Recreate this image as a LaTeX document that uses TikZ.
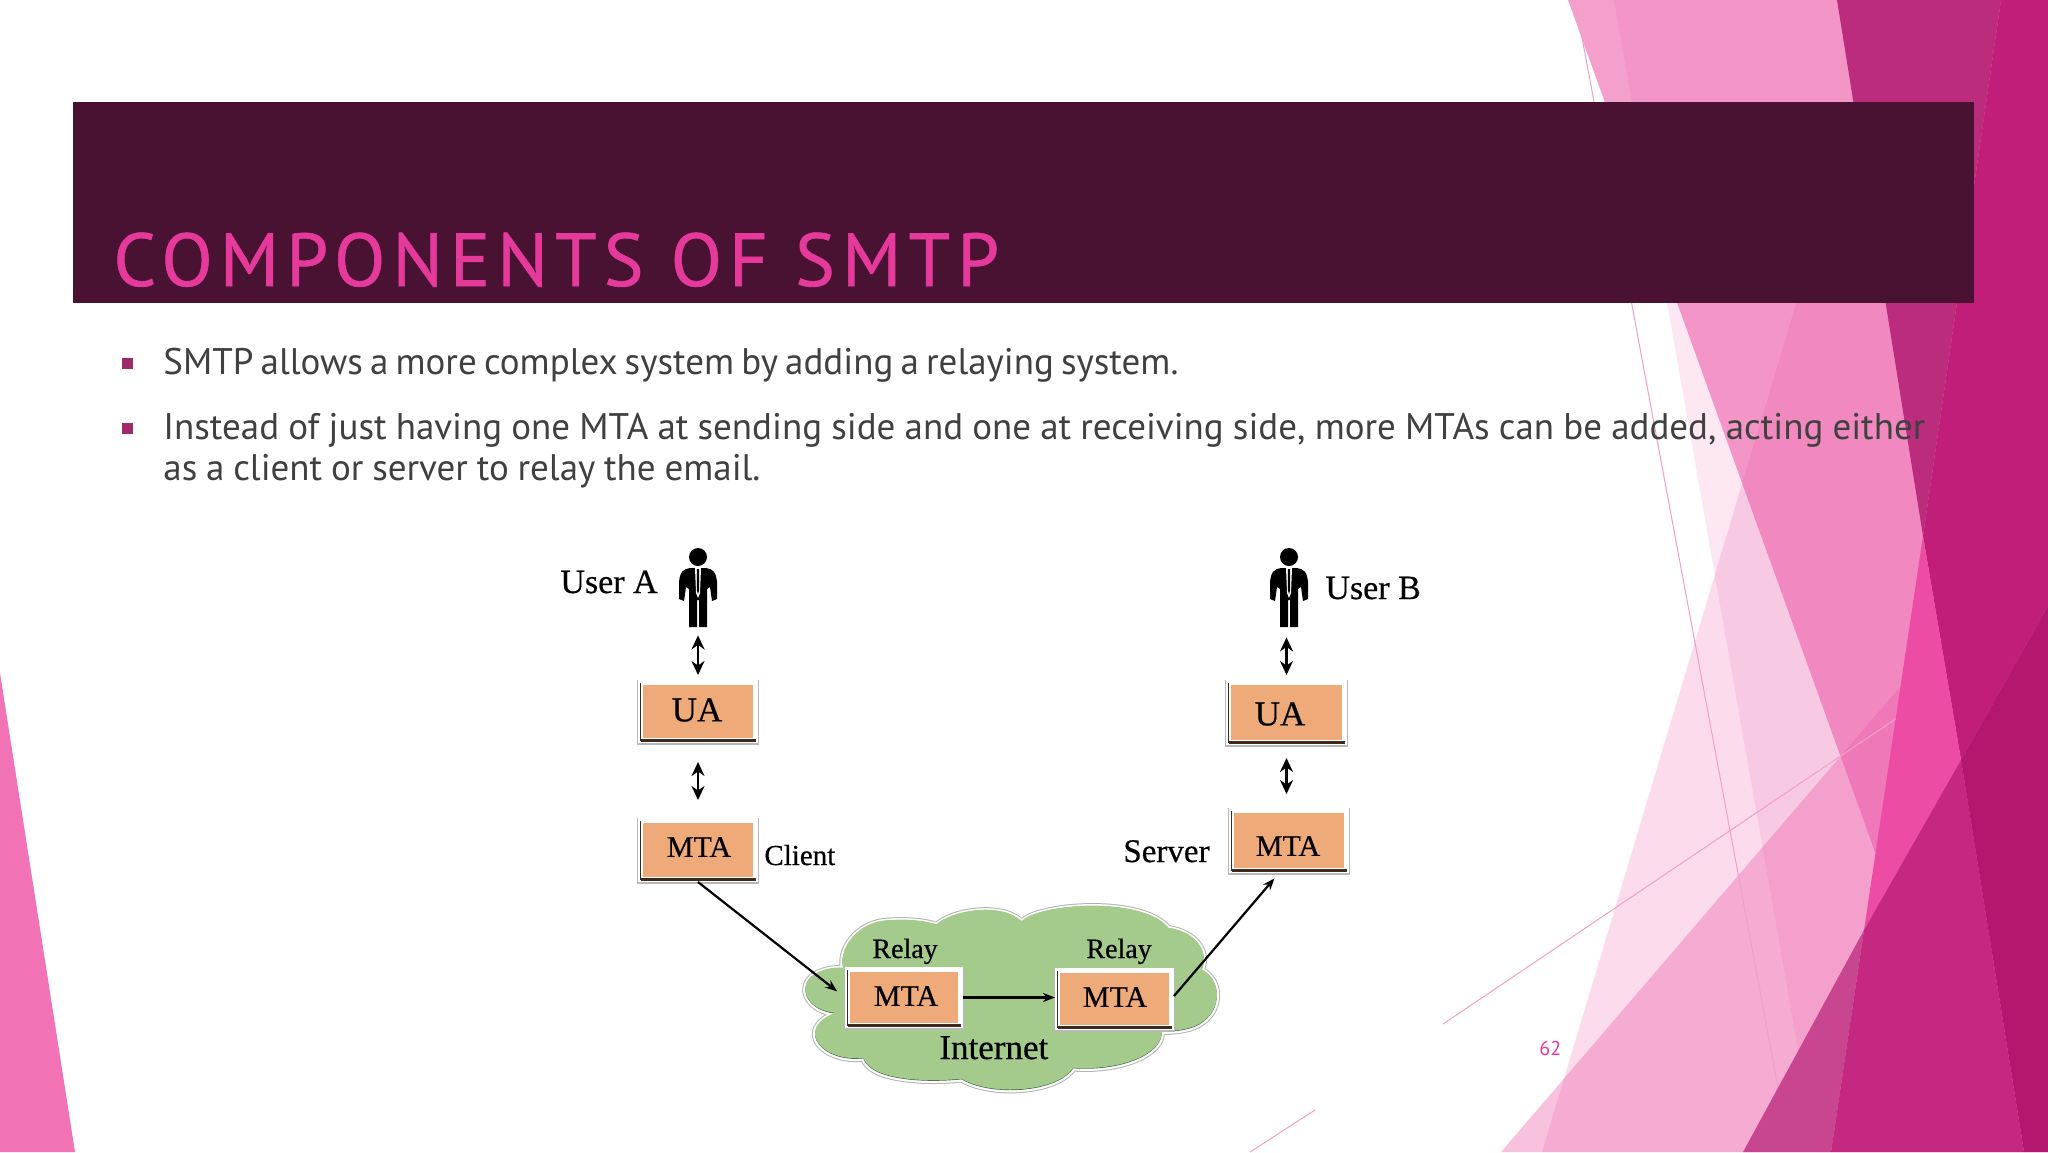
\documentclass[tikz,border=0pt]{standalone}
\usepackage{fontspec}
\setmainfont{PT Sans}
\newfontfamily\diagfont[FakeBold=0.5]{Liberation Serif}
\newfontfamily\titlefont[LetterSpace=9.5,FakeBold=0.8]{PT Sans}
\usetikzlibrary{arrows.meta,calc}
\definecolor{headerdark}{HTML}{4A1232}
\definecolor{titlepink}{HTML}{E5399B}
\definecolor{bodygrey}{HTML}{404040}
\definecolor{bulletpink}{HTML}{A02968}
\definecolor{shapepink}{HTML}{EE5FAB}
\definecolor{linepink}{HTML}{EFA0C8}
\definecolor{leftpink}{HTML}{F272B6}
\definecolor{boxorange}{HTML}{EFAA7A}
\definecolor{cloudgreen}{HTML}{A5CB8C}
\definecolor{clouddark}{HTML}{3F6B45}
\tikzset{
  softshape/.style={fill=shapepink,draw=none},
  thinline/.style={draw=linepink,line width=.5pt},
  bodyline/.style={anchor=base west,inner sep=0pt,text=bodygrey,font=\fontsize{18.5pt}{22pt}\selectfont},
  bulletbox/.style={rectangle,fill=bulletpink,inner sep=0pt,minimum size=5.5pt},
  diaglabel/.style={anchor=base west,inner sep=0pt,text=black},
  boxlabel/.style={anchor=center,inner sep=0pt,text=black},
  msgbox/.style={rectangle,inner sep=0pt,fill=boxorange,draw=white,line width=2.5pt,
    preaction={draw=black!28,line width=3.6pt,transform canvas={yshift=-.4pt}}},
  boxedge/.style={draw=black!75!boxorange,line cap=butt},
  twoway/.style={draw=black,line width=1.2pt,{Stealth[length=7pt,width=6.5pt]}-{Stealth[length=7pt,width=6.5pt]}},
  oneway/.style={draw=black,line width=1.1pt,-{Stealth[length=6pt,width=4.5pt]}},
  personbox/.style={rectangle,inner sep=0pt,minimum width=19pt,minimum height=35pt},
  person/.pic={
    \fill[black] (0,-40) circle (4.5pt);
    \fill[black] (-8,-29) .. controls (-15,-28) and (-18,-25) .. (-19,-15) -- (-19,2) -- (-14,4) -- (-12,-10)
      -- (-9,-8) -- (-9,30) -- (-1,30) -- (-1,3) -- (1,3) -- (1,30) -- (9,30) -- (9,-8) -- (12,-10) -- (14,4) -- (19,2) -- (19,-15)
      .. controls (18,-25) and (15,-28) .. (8,-29) -- cycle;
    \fill[white] (-3,-29) -- (3,-29) -- (2,-4) -- (0,1) -- (-2,-4) -- cycle;
    \fill[black] (-1.2,-28) -- (1.2,-28) -- (1.2,-7) -- (0,-3) -- (-1.2,-7) -- cycle;
  }
}
\def\cloudpath{(190,265) .. controls (175,215) and (225,125) .. (330,122) .. controls (390,118) and (440,125) .. (470,135)
  .. controls (510,95) and (660,65) .. (725,125)
  .. controls (780,70) and (1090,50) .. (1165,145)
  .. controls (1240,155) and (1290,210) .. (1265,270)
  .. controls (1325,300) and (1325,385) .. (1270,425) .. controls (1240,450) and (1190,455) .. (1145,455)
  .. controls (1150,520) and (1030,575) .. (880,565)
  .. controls (830,640) and (630,650) .. (545,598)
  .. controls (430,610) and (270,600) .. (250,535)
  .. controls (130,550) and (40,450) .. (165,400)
  .. controls (90,395) and (50,330) .. (95,290) .. controls (120,270) and (160,262) .. (190,265) -- cycle}
\begin{document}
\begin{tikzpicture}[x=.5pt,y=-.5pt]
\useasboundingbox (0,0) rectangle (2048,1152);
\fill[white] (0,0) rectangle (2048,1152);
% background facets
\fill[leftpink] (0,673) -- (75,1152) -- (0,1152) -- cycle;
\fill[softshape,fill opacity=.15] (1614,0) -- (1816,1152) -- (2048,1152) -- (2048,0) -- cycle;
\fill[softshape,fill opacity=.6] (1568,0) -- (1875,852) -- (2048,1000) -- (2048,0) -- cycle;
\fill[fill=shapepink,fill opacity=.22] (1542,1152) -- (1887,0) -- (2048,0) -- (2048,1152) -- cycle;
\fill[softshape,fill opacity=.38] (1501,1152) -- (1960,617) -- (2048,1152) -- cycle;
\draw[thinline] (1575,0) -- (1790,1152);
\draw[thinline] (1443,1024) -- (1900,716);
\draw[thinline] (1250,1152) -- (1315,1110);
\fill[fill={rgb,255:red,187;green,44;blue,124}] (1837,0) -- (2001,0) -- (1923,536) -- cycle;
\fill[fill={rgb,255:red,192;green,30;blue,120}] (2001,0) -- (2048,0) -- (2048,606) -- (1961,760) -- (1923,536) -- cycle;
\fill[fill={rgb,255:red,236;green,76;blue,164}] (1923,536) -- (1961,760) -- (1864,930) -- cycle;
\fill[fill={rgb,255:red,200;green,70;blue,143}] (1743,1152) -- (1864,930) -- (1831,1152) -- cycle;
\fill[fill={rgb,255:red,197;green,40;blue,128}] (1831,1152) -- (1864,930) -- (1961,760) -- (2024,1152) -- cycle;
\fill[fill={rgb,255:red,179;green,24;blue,110}] (1961,760) -- (2048,606) -- (2048,1152) -- (2024,1152) -- cycle;
% header
\fill[headerdark] (73,102) rectangle (1974,303);
\node[anchor=base west,inner sep=0pt,text=titlepink,font=\fontsize{37.5pt}{44pt}\selectfont\titlefont] (title) at (113,286) {COMPONENTS OF SMTP};
% body text
\node[bulletbox] (bulletone) at (127.5,363) {};
\node[bulletbox] (bullettwo) at (127.5,428) {};
\node[bodyline] (lineone) at (163,374.5) {\makebox[507.5pt][s]{SMTP allows a more complex system by adding a relaying system.}};
\node[bodyline] (linetwo) at (163,439) {\makebox[881pt][s]{Instead of just having one MTA at sending side and one at receiving side, more MTAs can be added, acting either}};
\node[bodyline] (linethree) at (163,480) {\makebox[298.5pt][s]{as a client or server to relay the email.}};
\node[anchor=base west,inner sep=0pt,text=titlepink,font=\fontsize{10pt}{12pt}\selectfont] (pagenum) at (1539,1055) {62};
% cloud
\begin{scope}[shift={(780,880)},scale=1/3]
  \draw[black!30,line width=3.2pt] \cloudpath;
  \draw[white,fill=white,line width=2.2pt] \cloudpath;
  \fill[clouddark] \cloudpath;
  \begin{scope}[yshift=1pt]
    \fill[cloudgreen] \cloudpath;
  \end{scope}
\end{scope}
% people
\node[personbox] (userA) at (698,592) {};
\pic at (698,597) {person};
\node[personbox] (userB) at (1289,592) {};
\pic at (1289,597) {person};
% boxes
\node[msgbox,minimum width=57.5pt,minimum height=29pt] (uaA) at (698,711.5) {};
\node[msgbox,minimum width=57.5pt,minimum height=29.5pt] (mtaA) at (698,850) {};
\node[msgbox,minimum width=58pt,minimum height=30pt] (uaB) at (1286.5,712.5) {};
\node[msgbox,minimum width=57.5pt,minimum height=30pt] (mtaB) at (1289,840.5) {};
\node[msgbox,minimum width=56.5pt,minimum height=28pt] (relayOne) at (904,997.5) {};
\node[msgbox,minimum width=57pt,minimum height=28.5pt] (relayTwo) at (1114.5,999) {};
\foreach \n in {uaA,mtaA,uaB,mtaB,relayOne,relayTwo}{
  \draw[boxedge,line width=1.1pt] ($(\n.south west)+(2.5,-2.5)$) -- ($(\n.south east)+(-2.5,-2.5)$);
  \draw[boxedge,line width=.5pt] ($(\n.south west)+(2.5,-2.5)$) -- ($(\n.north west)+(2.5,2.5)$);
}
% labels
\node[boxlabel,font=\diagfont\fontsize{17.5pt}{20pt}\selectfont] (uaAtext) at (697,710) {UA};
\node[boxlabel,font=\diagfont\fontsize{15pt}{18pt}\selectfont] (mtaAtext) at (699,847) {MTA};
\node[boxlabel,font=\diagfont\fontsize{17.5pt}{20pt}\selectfont] (uaBtext) at (1280,714) {UA};
\node[boxlabel,font=\diagfont\fontsize{15pt}{18pt}\selectfont] (mtaBtext) at (1288,846) {MTA};
\node[boxlabel,font=\diagfont\fontsize{15pt}{18pt}\selectfont] (relayOnetext) at (906,996) {MTA};
\node[boxlabel,font=\diagfont\fontsize{15pt}{18pt}\selectfont] (relayTwotext) at (1115,997) {MTA};
\node[diaglabel,font=\diagfont\fontsize{17pt}{20pt}\selectfont] (labA) at (560,593) {User A};
\node[diaglabel,font=\diagfont\fontsize{17pt}{20pt}\selectfont] (labB) at (1325,599) {User B};
\node[diaglabel,font=\diagfont\fontsize{14.5pt}{18pt}\selectfont] (labClient) at (764,865) {Client};
\node[diaglabel,font=\diagfont\fontsize{16.5pt}{20pt}\selectfont] (labServer) at (1123,862) {Server};
\node[diaglabel,font=\diagfont\fontsize{14pt}{18pt}\selectfont] (labRelayOne) at (872,958) {Relay};
\node[diaglabel,font=\diagfont\fontsize{14pt}{18pt}\selectfont] (labRelayTwo) at (1086,958) {Relay};
\node[diaglabel,font=\diagfont\fontsize{17.5pt}{20pt}\selectfont] (labInternet) at (939,1059) {Internet};
% connectors
\draw[twoway,shorten <=4pt,shorten >=2.5pt] (uaA.north |- userA.south) -- (uaA.north);
\draw[twoway,shorten <=9.5pt,shorten >=9pt] (uaA.south) -- (uaA.south |- mtaA.north);
\draw[twoway,shorten <=5pt,shorten >=2.5pt] (uaB.north |- userB.south) -- (uaB.north);
\draw[twoway,shorten <=6.5pt,shorten >=7pt] (uaB.south) -- (uaB.south |- mtaB.north);
\coordinate (mtaBin) at (1279,873);
\draw[oneway,shorten >=5pt] (mtaA.south) -- (relayOne.west);
\draw[oneway] (relayOne.east) -- (relayOne.east -| relayTwo.west);
\draw[oneway,shorten >=3.5pt] ([yshift=1.5pt]relayTwo.east) -- (mtaBin);
\end{tikzpicture}
\end{document}
